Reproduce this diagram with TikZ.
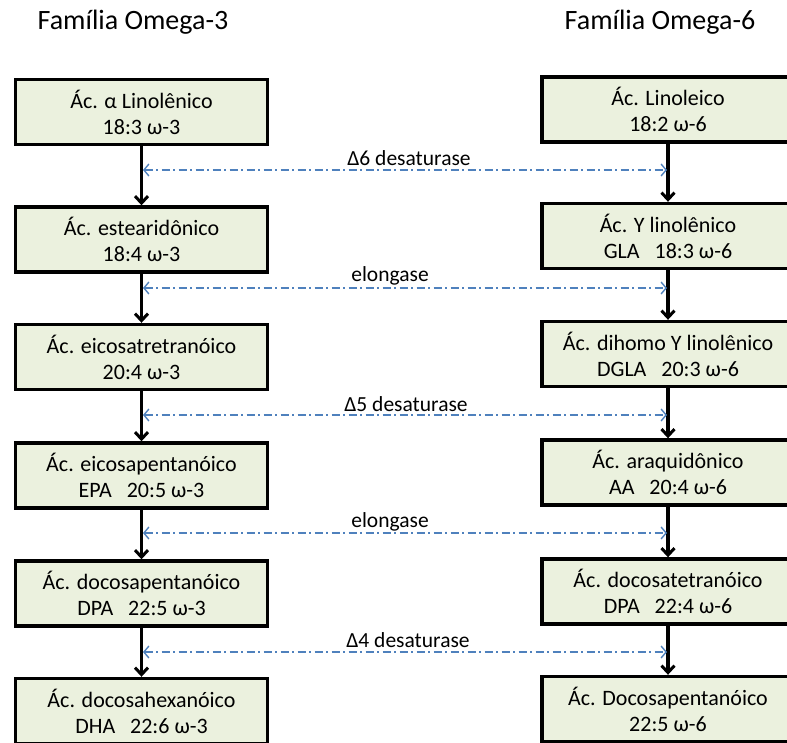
\documentclass[tikz,border=0pt]{standalone}
\usepackage{fontspec}
\setmainfont{Carlito}
\usetikzlibrary{arrows.meta, positioning}

\definecolor{boxfill}{RGB}{235,241,222}
\definecolor{enzblue}{RGB}{79,129,189}

\begin{document}
\begin{tikzpicture}[
    x=1pt, y=-1pt,
    block/.style = {
        rectangle,
        draw,
        line width=3.4pt,
        fill=boxfill,
        align=center,
        font=\fontsize{22}{26}\selectfont,
        minimum height=65pt,
        minimum width=252pt,
        inner sep=0pt
    },
    title/.style = {font=\fontsize{28}{32}\selectfont},
    enzyme/.style = {font=\fontsize{21.5}{24}\selectfont, inner sep=1pt},
    step arrow/.style = {line width=3.2pt, -{Straight Barb[length=7pt,width=13pt,line width=3pt]}},
    enz arrow/.style = {enzblue, line width=1.4pt, dash pattern=on 8pt off 3.5pt on 2pt off 3.5pt,
        {Straight Barb[length=5pt,width=12pt,line width=1.4pt]}-{Straight Barb[length=5pt,width=12pt,line width=1.4pt]}}
]
\clip (0,0) rectangle (787,743);

% Titles
\node[title] (t3) at (133,22) {Família Omega-3};
\node[title] (t6) at (660,22) {Família Omega-6};

% Omega-3 column
\node[block] (ala) at (141.5,112)   {Ác. α Linolênico\\18:3 ω-3};
\node[block] (sda) at (141.5,239.5) {Ác. estearidônico\\18:4 ω-3};
\node[block] (eta) at (141.5,357)   {Ác. eicosatretranóico\\20:4 ω-3};
\node[block] (epa) at (141.5,475.5) {Ác. eicosapentanóico\\EPA\ \ \ 20:5 ω-3};
\node[block] (dpa3) at (141.5,593.5) {Ác. docosapentanóico\\DPA\ \ \ 22:5 ω-3};
\node[block] (dha) at (141.5,711)   {Ác. docosahexanóico\\DHA\ \ \ 22:6 ω-3};

% Omega-6 column
\node[block] (la)   at (668,109.5) {Ác. Linoleico\\18:2 ω-6};
\node[block] (gla)  at (668,236)   {Ác. Y linolênico\\GLA\ \ \ 18:3 ω-6};
\node[block] (dgla) at (668,354)   {Ác. dihomo Y linolênico\\DGLA\ \ \ 20:3 ω-6};
\node[block] (aa)   at (668,472.5) {Ác. araquidônico\\AA\ \ \ 20:4 ω-6};
\node[block] (dpa6) at (668,591.5) {Ác. docosatetranóico\\DPA\ \ \ 22:4 ω-6};
\node[block] (dpe)  at (668,709)   {Ác. Docosapentanóico\\22:5 ω-6};

% Arrows (both pathways)
\draw[step arrow] (ala) -- (sda);
\draw[step arrow] (sda) -- (eta);
\draw[step arrow] (eta) -- (epa);
\draw[step arrow] (epa) -- (dpa3);
\draw[step arrow] (dpa3) -- (dha);

\draw[step arrow] (la) -- (gla);
\draw[step arrow] (gla) -- (dgla);
\draw[step arrow] (dgla) -- (aa);
\draw[step arrow] (aa) -- (dpa6);
\draw[step arrow] (dpa6) -- (dpe);

% Enzymes shared by both families
\node[enzyme] (d6)  at (409,158) {Δ6 desaturase};
\node[enzyme] (el1) at (390,276) {elongase};
\node[enzyme] (d5)  at (406,404) {Δ5 desaturase};
\node[enzyme] (el2) at (390,522) {elongase};
\node[enzyme] (d4)  at (408,640) {Δ4 desaturase};

\coordinate (d6l) at (143,170);  \coordinate (d6r) at (667,170);
\coordinate (el1l) at (143,288); \coordinate (el1r) at (667,288);
\coordinate (d5l) at (143,415);  \coordinate (d5r) at (667,415);
\coordinate (el2l) at (143,533); \coordinate (el2r) at (667,533);
\coordinate (d4l) at (143,652);  \coordinate (d4r) at (667,652);

\draw[enz arrow] (d6l) -- (d6r);
\draw[enz arrow] (el1l) -- (el1r);
\draw[enz arrow] (d5l) -- (d5r);
\draw[enz arrow] (el2l) -- (el2r);
\draw[enz arrow] (d4l) -- (d4r);

\end{tikzpicture}
\end{document}
